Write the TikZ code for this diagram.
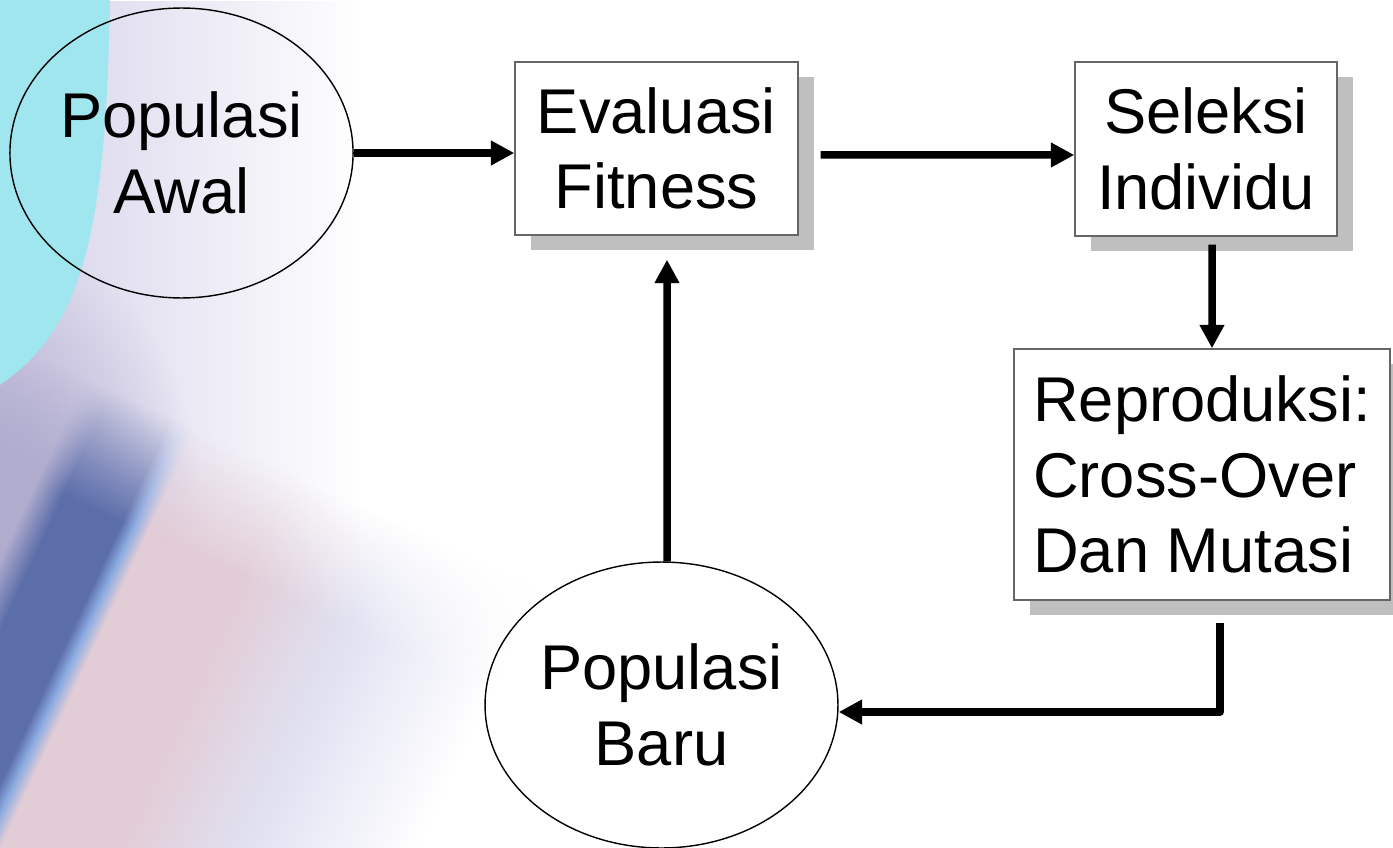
\documentclass[tikz,border=0pt]{standalone}
\usepackage{fontspec}
\setmainfont{Liberation Sans}
\usetikzlibrary{arrows.meta,shapes.geometric,shadows,fadings}
\definecolor{cyanbg}{RGB}{160,230,238}
\definecolor{lavbg}{RGB}{214,210,234}
\definecolor{mauvebg}{RGB}{176,172,206}
\definecolor{bluebg}{RGB}{92,110,170}
\definecolor{skybg}{RGB}{140,172,226}
\definecolor{pinkbg}{RGB}{226,204,214}
\definecolor{mistbg}{RGB}{224,226,242}
\pgfdeclarehorizontalshading{bandshade}{100bp}{color(0bp)=(mauvebg); color(36.1bp)=(mauvebg); color(38.2bp)=(bluebg); color(42.7bp)=(bluebg); color(43.6bp)=(skybg); color(44.6bp)=(pinkbg); color(52bp)=(pinkbg); color(60.4bp)=(mistbg); color(71bp)=(white); color(100bp)=(white)}
\pgfdeclareverticalshading{fadeupshade}{100bp}{color(0bp)=(white); color(64bp)=(white); color(75bp)=(black); color(100bp)=(black)}
\pgfdeclarefading{fadeup}{\pgfuseshading{fadeupshade}}
\tikzfading[name=softblob, inner color=transparent!0, outer color=transparent!100]
\tikzset{box/.style={draw=black!60, line width=0.8pt, fill=white, minimum width=5.66cm, minimum height=3.46cm, align=center, font=\fontsize{36}{43}\selectfont, drop shadow={shadow xshift=0.32cm, shadow yshift=-0.3cm, fill=black!25, opacity=1}}}
\tikzset{blob/.style={draw, ellipse, line width=0.8pt, inner sep=0pt, align=center, font=\fontsize{36}{43}\selectfont}}
\tikzset{flow/.style={-{Triangle[length=0.47cm, width=0.47cm]}, line width=0.15cm}}

\begin{document}
\begin{tikzpicture}[x=0.02cm, y=-0.02cm]
                    \useasboundingbox (0,0) rectangle (1393,848);
                    \fill[white] (0,0) rectangle (1393,848);
                    \fill[lavbg, path fading=east] (0,0) rectangle (360,848);
                    \fill[mauvebg, path fading=softblob] (0,500) ellipse (200 and 260);
                    \begin{scope}[transform canvas={rotate around={-25:(60,620)}}]
                        \path[shading=bandshade, path fading=fadeup] (-180,390) rectangle (540,920);
                    \end{scope}
                    \fill[cyanbg] (0,0) -- (110,0) .. controls (106,240) and (80,330) .. (0,385) -- cycle;

                    \node[blob, minimum width=6.74cm, minimum height=5.8cm] (awal) at (181.5,153) {Populasi\\Awal};
                    \node[box] (fitness) at (656.5,148.5) {Evaluasi\\Fitness};
                    \node[box, minimum width=5.24cm, minimum height=3.48cm] (seleksi) at (1206,149) {Seleksi\\Individu};
                    \node[box, minimum width=7.52cm, minimum height=5.02cm, align=left] (repro) at (1202,474.5) {Reproduksi:\\Cross-Over\\Dan Mutasi};
                    \node[blob, minimum width=7.06cm, minimum height=5.72cm] (baru) at (661.5,705) {Populasi\\Baru};

                    \draw[flow] (awal.east) -- (awal.east -| fitness.west);
                    \draw[flow] ([shift={(0.44cm,-0.13cm)}]fitness.east) -- ([yshift=-0.12cm]seleksi.west);
                    \draw[flow] ([shift={(0.12cm,-0.16cm)}]seleksi.south) -- ([xshift=0.2cm]repro.north);
                    \draw[flow, line join=round] ([shift={(0.36cm,-0.44cm)}]repro.south) |- ([yshift=-0.14cm]baru.east);
                    \draw[flow] ([xshift=0.11cm]baru.north) -- ([shift={(0.21cm,-0.48cm)}]fitness.south);
                \end{tikzpicture}
\end{document}
